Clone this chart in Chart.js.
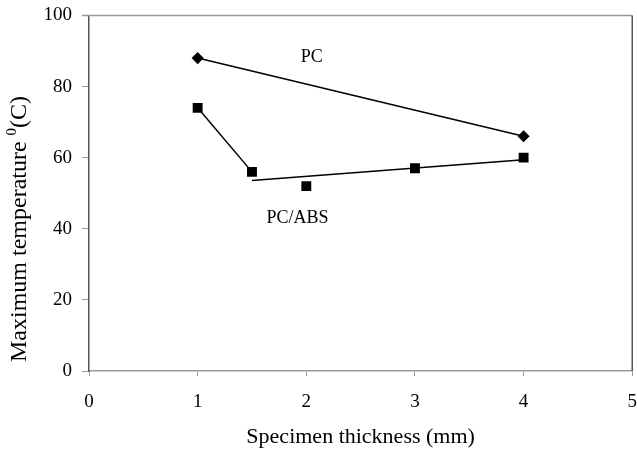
<!DOCTYPE html>
<html>
<head>
<meta charset="utf-8">
<script src="https://cdn.jsdelivr.net/npm/chart.js@4/dist/chart.umd.min.js"></script>
<style>
  html, body { margin: 0; padding: 0; background: #fff; overflow: hidden; }
  #wrap { width: 637px; height: 450px; overflow: hidden; position: relative; }
  #chart { position: absolute; left: 0; top: -6px; }
</style>
</head>
<body>
<div id="wrap"><canvas id="chart" width="652" height="456"></canvas></div>
<script>
// Specimen thickness (mm) and maximum temperature readings
const pcThickness = [1, 4];
const pcTemp = [88, 66];

const absThickness = [1, 1.5, 2, 3, 4];
const absTemp = [74, 56, 52, 57, 60];

// PC/ABS line: first segment joins the first two points, then a straight trend line
const absSegX = [1, 1.5];
const absSegY = [74, 56];
const absTrendX = [1.5, 4];
const absTrendY = [53.6, 59.4];

const xTicks = [0, 1, 2, 3, 4, 5];
const yTicks = [0, 20, 40, 60, 80, 100];

// in-plot labels (data coordinates)
const noteText = ['PC', 'PC/ABS'];
const noteX = [2.05, 1.92];
const noteY = [88.2, 43];

const SERIF = '"Liberation Serif", "Times New Roman", serif';

const pts = (xs, ys) => xs.map((x, i) => ({ x, y: ys[i] }));

const frameAndNotes = {
  id: 'frameAndNotes',
  afterDraw(chart) {
    const { ctx, chartArea: a, scales } = chart;
    ctx.save();
    // top and right edge of the plot frame
    ctx.lineWidth = 1.5;
    ctx.strokeStyle = '#999';
    ctx.beginPath();
    ctx.moveTo(a.left - 7, a.top);
    ctx.lineTo(a.right, a.top);
    ctx.stroke();
    ctx.strokeStyle = '#555';
    ctx.beginPath();
    ctx.moveTo(a.right, a.top);
    ctx.lineTo(a.right, a.bottom);
    ctx.stroke();
    // series labels
    ctx.fillStyle = '#000';
    ctx.font = '18px ' + SERIF;
    ctx.textAlign = 'center';
    ctx.textBaseline = 'middle';
    noteText.forEach((t, i) => {
      ctx.fillText(t, scales.x.getPixelForValue(noteX[i]), scales.y.getPixelForValue(noteY[i]));
    });
    // y axis title with a small superscript zero
    ctx.translate(20, a.bottom - 9);
    ctx.rotate(-Math.PI / 2);
    ctx.textAlign = 'left';
    ctx.font = '24px ' + SERIF;
    const main = 'Maximum temperature ';
    ctx.fillText(main, 0, 0);
    let w = ctx.measureText(main).width;
    ctx.font = '15px ' + SERIF;
    ctx.fillText('0', w, -8);
    w += ctx.measureText('0').width;
    ctx.font = '24px ' + SERIF;
    ctx.fillText('(C)', w, 0);
    ctx.restore();
  }
};

new Chart(document.getElementById('chart'), {
  type: 'scatter',
  data: {
    datasets: [
      {
        label: 'PC',
        data: pts(pcThickness, pcTemp),
        showLine: true,
        borderColor: '#000',
        backgroundColor: '#000',
        borderWidth: 1.5,
        pointStyle: 'rectRot',
        pointRadius: 5,
      },
      {
        label: 'PC/ABS',
        data: pts(absThickness, absTemp),
        showLine: false,
        borderColor: '#000',
        backgroundColor: '#000',
        pointStyle: 'rect',
        pointRadius: 7,
        borderWidth: 0,
      },
      {
        label: 'PC/ABS segment',
        data: pts(absSegX, absSegY),
        showLine: true,
        borderColor: '#000',
        borderWidth: 1.5,
        pointRadius: 0,
      },
      {
        label: 'PC/ABS trend',
        data: pts(absTrendX, absTrendY),
        showLine: true,
        borderColor: '#000',
        borderWidth: 1.5,
        pointRadius: 0,
      },
    ],
  },
  options: {
    responsive: false,
    animation: false,
    layout: { padding: { top: 15, right: 5, bottom: 0, left: 0 } },
    plugins: {
      legend: { display: false },
      tooltip: { enabled: false },
    },
    scales: {
      x: {
        type: 'linear',
        min: 0,
        max: 5,
        afterBuildTicks: (s) => { s.ticks = xTicks.map(v => ({ value: v })); },
        afterFit: (s) => { s.height = 79; },
        ticks: { color: '#000', font: { family: SERIF, size: 19 }, padding: 15 },
        grid: { display: true, drawOnChartArea: false, tickLength: 5, tickColor: '#999' },
        border: { color: '#999', width: 1.5 },
        title: {
          display: true,
          text: 'Specimen thickness (mm)',
          color: '#000',
          font: { family: SERIF, size: 22 },
          padding: { top: 0, bottom: 0 },
        },
      },
      y: {
        type: 'linear',
        min: 0,
        max: 100,
        afterBuildTicks: (s) => { s.ticks = yTicks.map(v => ({ value: v })); },
        afterFit: (s) => { s.width = 89; },
        ticks: { color: '#000', font: { family: SERIF, size: 19 }, padding: 10 },
        grid: { display: true, drawOnChartArea: false, tickLength: 7, tickColor: '#999' },
        border: { color: '#555', width: 1.5 },
      },
    },
  },
  plugins: [frameAndNotes],
});
</script>
</body>
</html>
